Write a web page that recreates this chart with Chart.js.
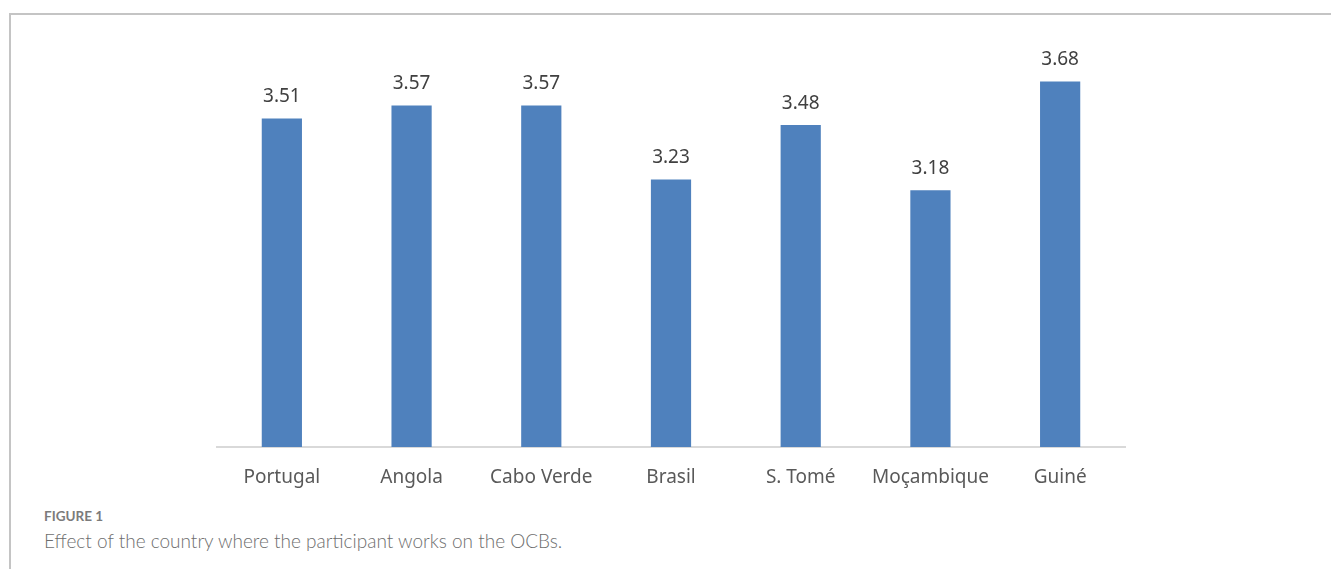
<!DOCTYPE html>
<html>
<head>
<meta charset="utf-8">
<script src="https://cdn.jsdelivr.net/npm/chart.js"></script>
<style>
  html, body { margin: 0; padding: 0; background: #fff; }
  body { width: 1331px; height: 569px; position: relative; overflow: hidden; }
  #frame { position: absolute; left: 9px; top: 13px; right: -5px; bottom: -5px;
           border-top: 2px solid #c4c4c4; border-left: 2px solid #c4c4c4; }
  #wrap { position: absolute; left: 0; top: 0; width: 1331px; height: 500px; }
  #fig { position: absolute; left: 44px; top: 508px; font: bold 13.5px Lato, sans-serif; color: #7b7b7b; }
  #cap { position: absolute; left: 44px; top: 529px; font: 300 19px Lato, sans-serif; color: #6e6e6e; }
</style>
</head>
<body>
<div id="frame"></div>
<div id="wrap"><canvas id="myChart"></canvas></div>
<div id="fig">FIGURE 1</div>
<div id="cap">Effect of the country where the participant works on the OCBs.</div>
<script>
var countries = ["Portugal", "Angola", "Cabo Verde", "Brasil", "S. Tomé", "Moçambique", "Guiné"];
var scores = [3.51, 3.57, 3.57, 3.23, 3.48, 3.18, 3.68];

var valueLabels = {
    id: 'valueLabels',
    afterDatasetsDraw: function (chart) {
        var c = chart.ctx;
        var meta = chart.getDatasetMeta(0);
        c.save();
        c.font = '19px "Noto Sans"';
        c.fillStyle = '#404040';
        c.textAlign = 'center';
        c.textBaseline = 'middle';
        meta.data.forEach(function (bar, i) {
            c.fillText(scores[i].toFixed(2), bar.x, bar.y - 22);
        });
        c.restore();
    }
};

var ctx = document.getElementById('myChart').getContext("2d");
var myChart = new Chart(ctx, {
    type: "bar",
    data: {
        labels: countries,
        datasets: [{
            label: 'OCBs',
            data: scores,
            backgroundColor: '#4f81bd',
            borderWidth: 0,
            categoryPercentage: 1,
            barPercentage: 0.31
        }]
    },
    options: {
        responsive: true,
        maintainAspectRatio: false,
        animation: false,
        layout: { padding: { left: 217, right: 206, top: 12, bottom: 0 } },
        plugins: {
            legend: { display: false },
            tooltip: { enabled: false }
        },
        scales: {
            x: {
                grid: { display: false, drawTicks: false },
                border: { display: true, color: '#d9d9d9', width: 2 },
                ticks: { color: '#595959', font: { family: 'Noto Sans', size: 19 }, padding: 19 },
                afterFit: function (s) { s.height = 53; }
            },
            y: {
                display: false,
                min: 2,
                max: 4
            }
        }
    },
    plugins: [valueLabels]
});
</script>
</body>
</html>
